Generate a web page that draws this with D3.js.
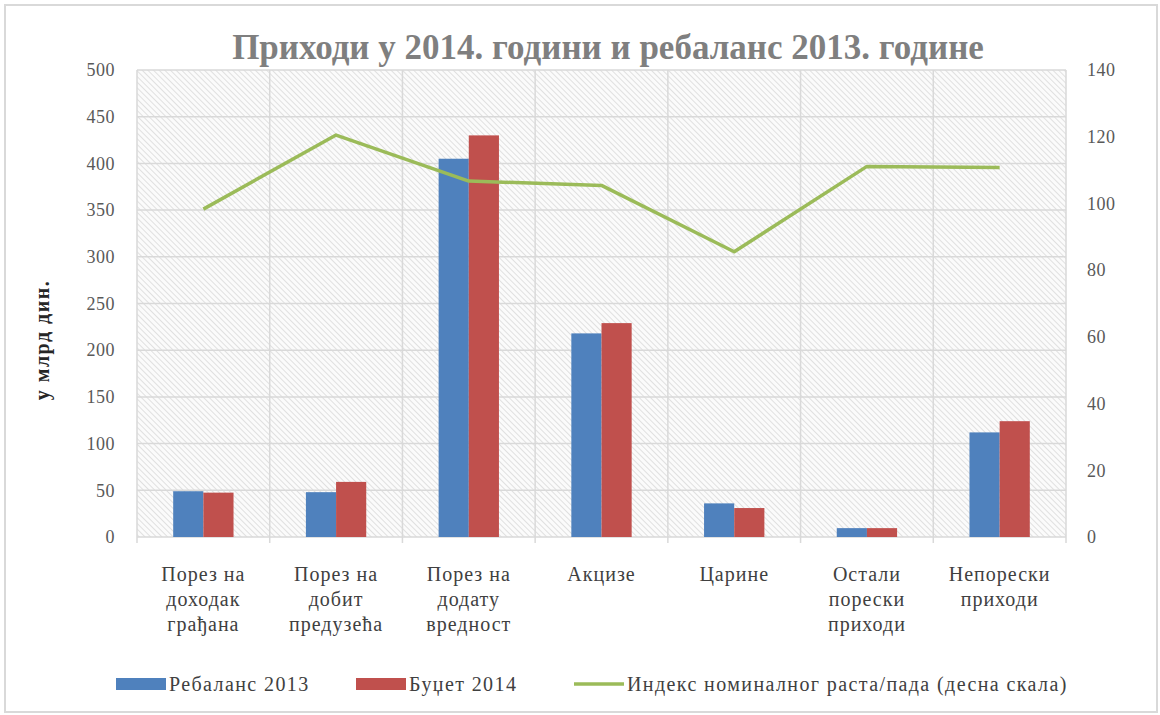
<!DOCTYPE html>
<html>
<head>
<meta charset="utf-8">
<script src="https://cdn.jsdelivr.net/npm/d3@7"></script>
<style>
  html, body { margin: 0; padding: 0; background: #fff; }
  svg text { font-family: "Liberation Serif", "Times New Roman", serif; }
</style>
</head>
<body>
<div id="chart"></div>
<script>
var categories = [
    ["Порез на", "доходак", "грађана"],
    ["Порез на", "добит", "предузећа"],
    ["Порез на", "додату", "вредност"],
    ["Акцизе"],
    ["Царине"],
    ["Остали", "порески", "приходи"],
    ["Непорески", "приходи"]
];
var rebalans2013 = [49, 48, 405, 218, 36, 9.5, 112];
var budzet2014 = [47.5, 59, 430, 229, 31, 9.5, 124];
var indeks = [98.3, 120.5, 106.7, 105.4, 85.5, 111.1, 110.8];
var leftTicks = [0, 50, 100, 150, 200, 250, 300, 350, 400, 450, 500];
var rightTicks = [0, 20, 40, 60, 80, 100, 120, 140];

var W = 1160, H = 715;
var margin = {top: 70, right: 94, bottom: 178, left: 137};
var width = W - margin.left - margin.right;
var height = H - margin.top - margin.bottom;

var svg = d3.select("#chart").append("svg")
    .attr("width", W)
    .attr("height", H);

// outer frame
svg.append("rect")
    .attr("x", 5).attr("y", 5)
    .attr("width", W - 8).attr("height", H - 8)
    .attr("fill", "#fff")
    .attr("stroke", "#d9d9d9")
    .attr("stroke-width", 2);

// hatch pattern for plot background
var defs = svg.append("defs");
var pat = defs.append("pattern")
    .attr("id", "hatch")
    .attr("patternUnits", "userSpaceOnUse")
    .attr("width", 4).attr("height", 4)
    .attr("patternTransform", "rotate(45)");
pat.append("rect").attr("width", 4).attr("height", 4).attr("fill", "#fbfbfb");
pat.append("line")
    .attr("x1", 0).attr("y1", 0).attr("x2", 4).attr("y2", 0)
    .attr("stroke", "#d8d8d8").attr("stroke-width", 1.5);

svg.append("text")
    .attr("x", 608)
    .attr("y", 59)
    .attr("text-anchor", "middle")
    .style("font-size", "35px")
    .style("font-weight", "bold")
    .style("fill", "#7f7f7f")
    .text("Приходи у 2014. години и ребаланс 2013. године");

var g = svg.append("g")
    .attr("transform", "translate(" + margin.left + "," + margin.top + ")");

var x = d3.scaleBand()
    .domain(d3.range(categories.length))
    .range([0, width]);

var x1 = d3.scaleBand()
    .domain([0, 1])
    .range([0, x.bandwidth()])
    .paddingInner(0)
    .paddingOuter(1.2);

var y = d3.scaleLinear().domain([0, 500]).range([height, 0]);
var y2 = d3.scaleLinear().domain([0, 140]).range([height, 0]);

g.append("rect")
    .attr("width", width)
    .attr("height", height)
    .attr("fill", "url(#hatch)");

// horizontal grid
g.append("g")
    .selectAll("line")
    .data(leftTicks)
    .enter().append("line")
    .attr("x1", 0).attr("x2", width)
    .attr("y1", function(d) { return y(d); })
    .attr("y2", function(d) { return y(d); })
    .attr("stroke", "#d9d9d9")
    .attr("stroke-width", 1.5);

// vertical grid at category boundaries
g.append("g")
    .selectAll("line")
    .data(d3.range(categories.length + 1))
    .enter().append("line")
    .attr("x1", function(d) { return d * x.step(); })
    .attr("x2", function(d) { return d * x.step(); })
    .attr("y1", 0).attr("y2", height + 6)
    .attr("stroke", "#d9d9d9")
    .attr("stroke-width", 1.5);

var series = [
    {name: "Ребаланс 2013", values: rebalans2013, color: "#4f81bd"},
    {name: "Буџет 2014", values: budzet2014, color: "#c0504d"}
];

series.forEach(function(s, si) {
    g.append("g")
        .selectAll("rect")
        .data(s.values)
        .enter().append("rect")
        .attr("x", function(d, i) { return x(i) + x1(si); })
        .attr("width", x1.bandwidth())
        .attr("y", function(d) { return y(d); })
        .attr("height", function(d) { return height - y(d); })
        .attr("fill", s.color);
});

var lineGen = d3.line()
    .x(function(d, i) { return x(i) + x.bandwidth() / 2; })
    .y(function(d) { return y2(d); });

g.append("path")
    .datum(indeks)
    .attr("d", lineGen)
    .attr("fill", "none")
    .attr("stroke", "#9bbb59")
    .attr("stroke-width", 3.5)
    .attr("stroke-linejoin", "round");

// left axis
var axL = g.append("g")
    .call(d3.axisLeft(y).tickValues(leftTicks).tickSize(0).tickPadding(22));
axL.select(".domain").remove();
axL.selectAll("text")
    .style("font-size", "18px")
    .style("letter-spacing", "0.5px")
    .style("fill", "#595959")
    .style("font-family", "Liberation Serif, serif");

// right axis
var axR = g.append("g")
    .attr("transform", "translate(" + width + ",0)")
    .call(d3.axisRight(y2).tickValues(rightTicks).tickSize(0).tickPadding(21));
axR.select(".domain").remove();
axR.selectAll("text")
    .style("font-size", "18px")
    .style("letter-spacing", "0.5px")
    .style("fill", "#595959")
    .style("font-family", "Liberation Serif, serif");

// y label
g.append("text")
    .attr("transform", "translate(-88,270) rotate(-90)")
    .attr("text-anchor", "middle")
    .style("font-size", "20px")
    .style("letter-spacing", "1.5px")
    .style("font-weight", "bold")
    .style("fill", "#262626")
    .text("у млрд дин.");

// category labels
var lab = g.append("g")
    .selectAll("text")
    .data(categories)
    .enter().append("text")
    .attr("text-anchor", "middle")
    .attr("transform", function(d, i) {
        return "translate(" + (x(i) + x.bandwidth() / 2) + "," + (height + 44) + ")";
    })
    .style("font-size", "20px")
    .style("letter-spacing", "1px")
    .style("fill", "#404040");
lab.selectAll("tspan")
    .data(function(d) { return d; })
    .enter().append("tspan")
    .attr("x", 0)
    .attr("dy", function(d, i) { return i === 0 ? 0 : 25; })
    .text(function(d) { return d; });

// legend
var legendItems = [
    {label: "Ребаланс 2013", color: "#4f81bd", type: "rect", x: 116},
    {label: "Буџет 2014", color: "#c0504d", type: "rect", x: 356},
    {label: "Индекс номиналног раста/пада (десна скала)", color: "#9bbb59", type: "line", x: 574}
];
var leg = svg.append("g");
legendItems.forEach(function(it) {
    var gi = leg.append("g").attr("transform", "translate(" + it.x + ",684)");
    if (it.type === "rect") {
        gi.append("rect").attr("x", 0).attr("y", -6).attr("width", 50).attr("height", 12).attr("fill", it.color);
    } else {
        gi.append("line").attr("x1", 0).attr("x2", 50).attr("y1", 0).attr("y2", 0)
            .attr("stroke", it.color).attr("stroke-width", 3.5);
    }
    gi.append("text")
        .attr("x", 53)
        .attr("y", 7)
        .style("font-size", "20px")
        .style("letter-spacing", "1.4px")
        .style("fill", "#404040")
        .text(it.label);
});
</script>
</body>
</html>
